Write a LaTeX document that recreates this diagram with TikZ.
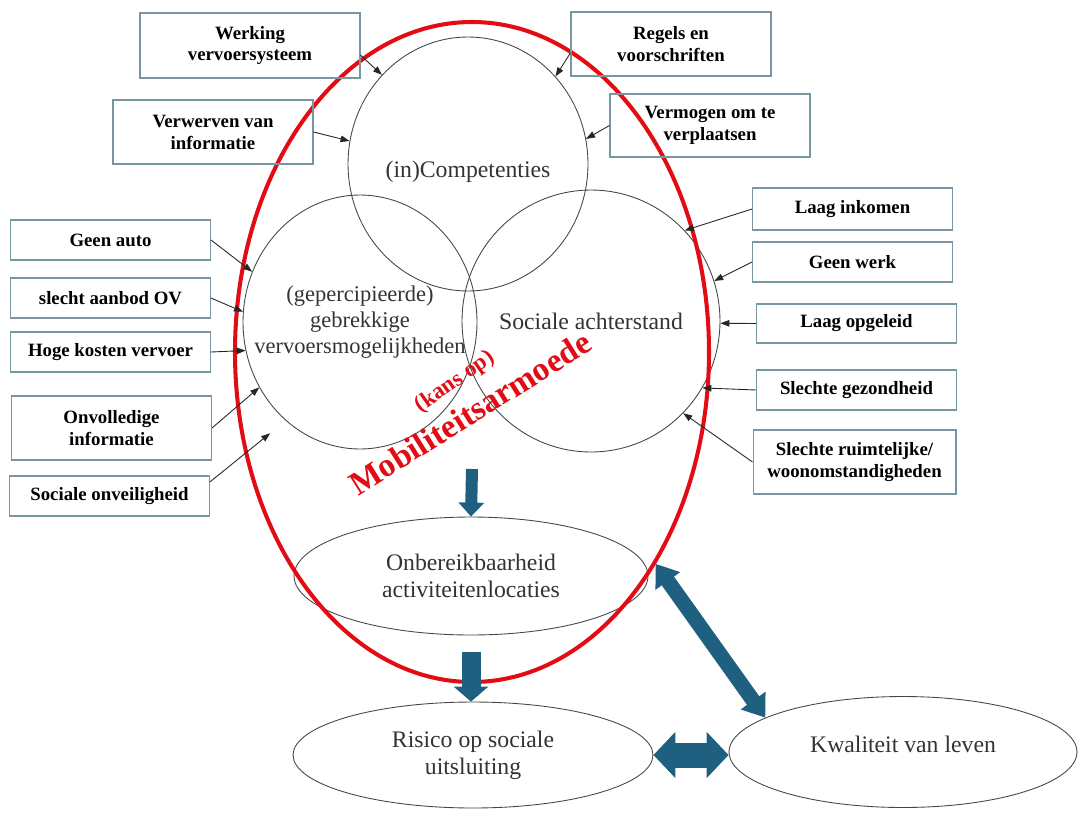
\documentclass[tikz,border=0pt]{standalone}
\usepackage{fontspec}
\setmainfont{Liberation Serif}
\usepackage{tikz}
\usetikzlibrary{positioning,shapes.geometric,arrows.meta}

\definecolor{kadergrijs}{RGB}{120,150,160}
\definecolor{lijngrijs}{RGB}{70,70,70}
\definecolor{rood}{RGB}{228,12,20}
\definecolor{blauw}{RGB}{31,96,128}

\tikzset{
  kader/.style={draw=kadergrijs, line width=0.6pt, inner sep=0pt, align=center,
    minimum width=4cm, minimum height=0.8cm, font=\fontsize{10.7}{12.5}\selectfont\bfseries},
  cirkel/.style={ellipse, draw=lijngrijs, line width=0.5pt, inner xsep=-2.2cm, inner ysep=-1cm, align=center,
    text=black!80, font=\fontsize{13.5}{15.5}\selectfont},
  pijl/.style={draw=black!85, line width=0.5pt, -{Triangle[length=0.18cm,width=0.13cm]}},
}

\begin{document}
\begin{tikzpicture}[x=0.02cm, y=-0.02cm]
		\useasboundingbox (0,0) rectangle (1079,812);

		% 三个圆
		\node[cirkel, minimum width=4.8cm, minimum height=5.08cm, text height=0.65cm] (comp) at (468,164) {(in)Competenties};
		\node[cirkel, minimum width=4.68cm, minimum height=5.08cm, font=\fontsize{12.8}{14.8}\selectfont] (geb) at (360,322) {(gepercipieerde)\\gebrekkige\\vervoersmogelijkheden};
		\node[cirkel, minimum width=5.16cm, minimum height=5.24cm] (soc) at (591,321) {Sociale achterstand};

		% 下方椭圆
		\node[cirkel, minimum width=7.08cm, minimum height=2.36cm] (onb) at (471,576) {Onbereikbaarheid\\activiteitenlocaties};
		\node[cirkel, minimum width=7.2cm, minimum height=2.12cm] (risico) at (473,755) {Risico op sociale\\uitsluiting};
		\node[cirkel, minimum width=6.96cm, minimum height=2.22cm, text depth=0.3cm] (kwal) at (903,752) {Kwaliteit van leven};

		% 红色椭圆与文字
		\draw[rood, line width=2.3pt] (472,352) ellipse [x radius=237, y radius=330];
		\node[text=rood, font=\fontsize{19}{22}\selectfont\bfseries, rotate=32] (armoede) at (470,413) {Mobiliteitsarmoede};
		\node[text=rood, font=\fontsize{13}{15}\selectfont\bfseries, rotate=35] (kans) at (455,382) {(kans op)};

		% 上方方框
		\node[kader, minimum width=4.4cm, minimum height=1.3cm] (werk) at (250,45.5) {Werking\\vervoersysteem};
		\node[kader, minimum height=1.28cm] (verw) at (213,132) {Verwerven van\\informatie};
		\node[kader, minimum height=1.28cm] (regels) at (671,44) {Regels en\\voorschriften};
		\node[kader, minimum height=1.26cm] (verm) at (710,125.5) {Vermogen om te\\verplaatsen};

		% 右侧方框
		\node[kader, minimum height=0.84cm] (inkomen) at (852.5,209) {Laag inkomen};
		\node[kader] (geenwerk) at (852.5,262) {Geen werk};
		\node[kader, minimum height=0.78cm] (opgeleid) at (856.5,323.5) {Laag opgeleid};
		\node[kader] (gezond) at (856.5,390) {Slechte gezondheid};
		\node[kader, minimum width=4.06cm, minimum height=1.28cm] (ruimte) at (854.5,462) {Slechte ruimtelijke/\\woonomstandigheden};

		% 左侧方框
		\node[kader] (auto) at (110.5,240) {Geen auto};
		\node[kader] (ovaanbod) at (110.5,298) {slecht aanbod OV};
		\node[kader] (kosten) at (110.5,352) {Hoge kosten vervoer};
		\node[kader, minimum height=1.28cm] (onvolledig) at (111.5,428) {Onvolledige\\informatie};
		\node[kader] (onveilig) at (109.5,496) {Sociale onveiligheid};

		% 细箭头
		\draw[pijl] (werk.-5) -- (comp.134);
		\draw[pijl] (verw.east) -- (comp.169);
		\draw[pijl] (regels.185) -- (comp.45);
		\draw[pijl] (verm.west) -- (comp.12);
		\draw[pijl] (inkomen.west) -- (soc.44);
		\draw[pijl] (geenwerk.west) -- (soc.18);
		\draw[pijl] (opgeleid.west) -- (soc.-1);
		\draw[pijl] (gezond.west) -- (soc.-31);
		\draw[pijl] (ruimte.west) -- (soc.-45);
		\draw[pijl] (auto.east) -- (geb.155);
		\draw[pijl] (ovaanbod.east) -- (geb.175);
		\draw[pijl] (kosten.east) -- (geb.194);
		\draw[pijl] (onvolledig.east) -- (geb.213);
		\draw[pijl, shorten >=0.4cm] (onveilig.8) -- (geb.233);

		% 蓝色粗箭头
		\coordinate (pijlbegin) at (472,469);
		\draw[blauw, line width=0.24cm, -{Triangle[length=0.28cm,width=0.5cm]}] (pijlbegin) -- (onb.north);
		\draw[blauw, line width=0.38cm, -{Triangle[length=0.3cm,width=0.68cm]}, shorten <=0.34cm] (onb.south) -- (onb.south |- risico.north);
		\draw[blauw, line width=0.3cm, {Triangle[length=0.42cm,width=0.58cm]}-{Triangle[length=0.42cm,width=0.58cm]}] ([xshift=0.22cm]onb.4) -- (kwal.166);
		\draw[blauw, line width=0.5cm, {Triangle[length=0.44cm,width=0.9cm]}-{Triangle[length=0.44cm,width=0.9cm]}] (risico.east) -- (risico.east -| kwal.west);
	\end{tikzpicture}
\end{document}
